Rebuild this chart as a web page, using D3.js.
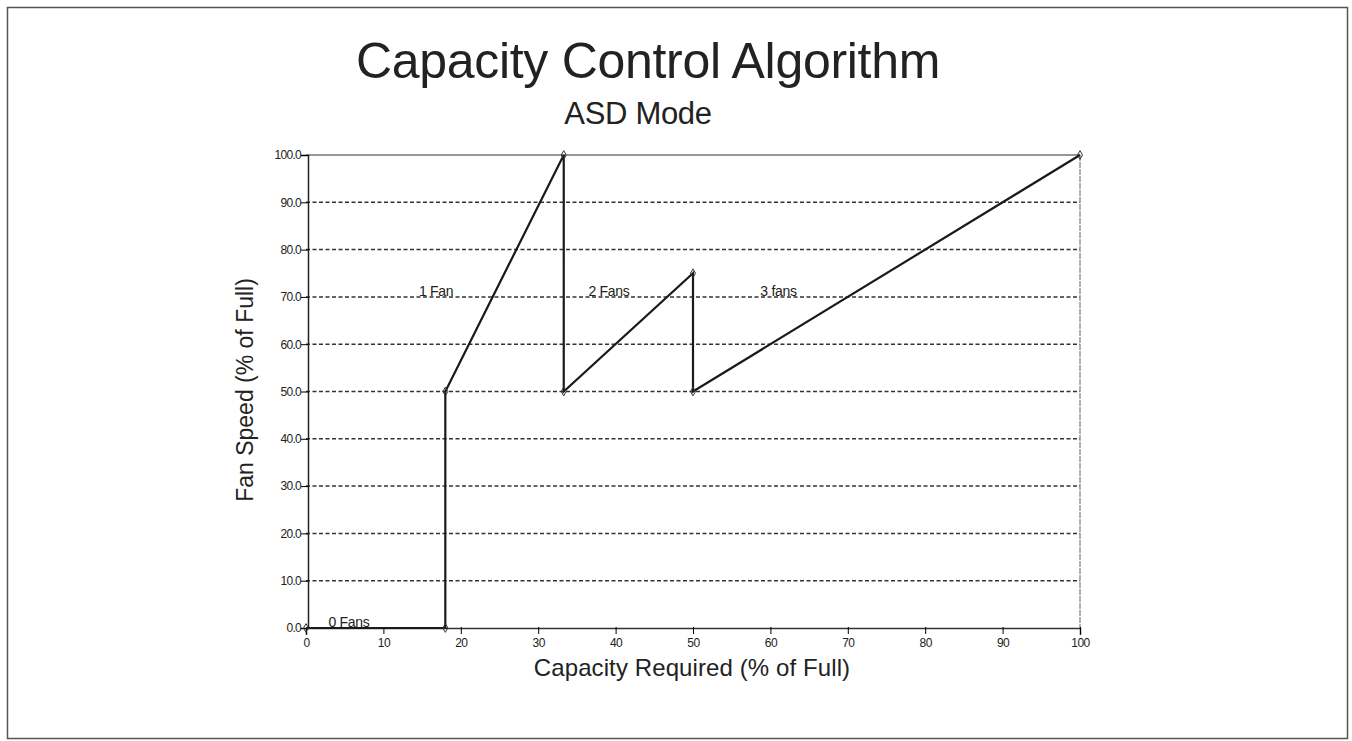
<!DOCTYPE html>
<html>
<head>
<meta charset="utf-8">
<script src="https://cdn.jsdelivr.net/npm/d3@7"></script>
<style>
  body { margin: 0; background: #fff; }
  svg text { font-family: "Liberation Sans", Arial, sans-serif; fill: #222; }
</style>
</head>
<body>
<svg id="chart" width="1352" height="741"></svg>
<script>
// capacity (% of full) vs fan speed (% of full)
var capacity = [0, 18, 18, 33.3, 33.3, 50, 50, 100];
var fanSpeed = [0, 0, 50, 100, 50, 75, 50, 100];

var xTicks = [0, 10, 20, 30, 40, 50, 60, 70, 80, 90, 100];
var yTicks = [0, 10, 20, 30, 40, 50, 60, 70, 80, 90, 100];

var stageNames = ["0 Fans", "1 Fan", "2 Fans", "3 fans"];
var stageX = [2.9, 14.6, 36.5, 58.7];
var stageY = [0, 70, 70, 70];

var svg = d3.select("#chart");
var plotL = 306, plotR = 1080, plotT = 155, plotB = 628;

var x = d3.scaleLinear().domain([0, 100]).range([plotL, plotR]);
var y = d3.scaleLinear().domain([0, 100]).range([plotB, plotT]);

// outer frame
svg.append("rect")
  .attr("x", 7.5).attr("y", 7.5)
  .attr("width", 1340).attr("height", 731)
  .attr("fill", "none").attr("stroke", "#555").attr("stroke-width", 1.5);

// titles
svg.append("text")
  .attr("x", 648).attr("y", 78)
  .attr("text-anchor", "middle")
  .attr("font-size", 50)
  .style("letter-spacing", "-0.3px")
  .text("Capacity Control Algorithm");
svg.append("text")
  .attr("x", 638).attr("y", 124)
  .attr("text-anchor", "middle")
  .attr("font-size", 31)
  .style("letter-spacing", "-0.3px")
  .text("ASD Mode");

// gridlines
svg.append("g").selectAll("line")
  .data(yTicks.filter(function(d) { return d > 0; }))
  .enter().append("line")
  .attr("x1", plotL).attr("x2", plotR)
  .attr("y1", function(d) { return y(d); })
  .attr("y2", function(d) { return y(d); })
  .attr("stroke", "#333")
  .attr("stroke-width", function(d) { return d === 100 ? 1.2 : 1.5; })
  .attr("stroke-dasharray", function(d) { return d === 100 ? null : "4,2.5"; });

// right border of plot
svg.append("line")
  .attr("x1", plotR).attr("x2", plotR)
  .attr("y1", plotT).attr("y2", plotB)
  .attr("stroke", "#666").attr("stroke-width", 1)
  .attr("stroke-dasharray", "6,1");

// axes
var yAxis = d3.axisLeft(y).tickValues(yTicks).tickSize(7)
  .tickFormat(d3.format(".1f"));
var gy = svg.append("g").attr("transform", "translate(" + (plotL + 2) + ",0)").call(yAxis);
gy.select(".domain").attr("stroke", "#222").attr("stroke-width", 1.5);
gy.selectAll("text").attr("font-size", 12).attr("x", -7).style("letter-spacing", "-0.7px");

var xAxis = d3.axisBottom(x).tickValues(xTicks).tickSize(7)
  .tickFormat(d3.format("d"));
var gx = svg.append("g").attr("transform", "translate(0," + plotB + ")").call(xAxis);
gx.select(".domain").attr("stroke", "#333").attr("stroke-width", 1.5);
gx.selectAll(".tick line").attr("transform", "translate(0,-1)");
gx.selectAll("text").attr("font-size", 12).attr("y", 10).style("letter-spacing", "-0.5px");

svg.selectAll(".tick text").style("font-family", "\"Liberation Sans\", Arial, sans-serif").attr("fill", "#222");

// axis titles
svg.append("text")
  .attr("transform", "translate(253,390) rotate(-90)")
  .attr("text-anchor", "middle")
  .attr("font-size", 23)
  .text("Fan Speed (% of Full)");
svg.append("text")
  .attr("x", 692).attr("y", 676)
  .attr("text-anchor", "middle")
  .attr("font-size", 24)
  .style("letter-spacing", "0.1px")
  .text("Capacity Required (% of Full)");

// control line
var pts = capacity.map(function(c, i) { return [c, fanSpeed[i]]; });
var line = d3.line()
  .x(function(d) { return x(d[0]); })
  .y(function(d) { return y(d[1]); });
svg.append("path")
  .datum(pts)
  .attr("d", line)
  .attr("fill", "none")
  .attr("stroke", "#1a1a1a")
  .attr("stroke-width", 2.2)
  .attr("stroke-linejoin", "miter");

// little point markers
var sym = d3.symbol().type(d3.symbolDiamond).size(22);
svg.append("g").selectAll("path")
  .data(pts)
  .enter().append("path")
  .attr("transform", function(d) { return "translate(" + x(d[0]) + "," + y(d[1]) + ")"; })
  .attr("d", sym)
  .attr("fill", "none")
  .attr("stroke", "#333")
  .attr("stroke-width", 1);

// stage labels
svg.append("g").selectAll("text")
  .data(stageNames)
  .enter().append("text")
  .attr("x", function(d, i) { return x(stageX[i]); })
  .attr("y", function(d, i) { return y(stageY[i]) - 1; })
  .attr("font-size", 14)
  .style("letter-spacing", "-0.3px")
  .text(function(d) { return d; });
</script>
</body>
</html>
